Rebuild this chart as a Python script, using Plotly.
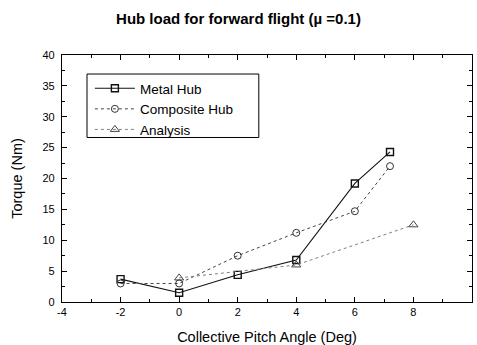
import plotly.graph_objects as go

metal_x = [-2, 0, 2, 4, 6, 7.2]
metal_y = [3.7, 1.5, 4.4, 6.8, 19.2, 24.3]
comp_x = [-2, 0, 2, 4, 6, 7.2]
comp_y = [3.0, 3.0, 7.5, 11.2, 14.7, 22.0]
anal_x = [0, 4, 8]
anal_y = [3.9, 6.0, 12.5]

x_ticks = [-4, -2, 0, 2, 4, 6, 8, 10]
y_ticks = [0, 5, 10, 15, 20, 25, 30, 35, 40]

FONT = "Arial, Liberation Sans, sans-serif"

fig = go.Figure()
fig.add_trace(go.Scatter(x=metal_x, y=metal_y, name="Metal Hub", mode="lines+markers",
                         line=dict(color="#111111", width=1.1),
                         marker=dict(symbol="square-open", size=7, color="#111111", line=dict(width=1.4))))
fig.add_trace(go.Scatter(x=comp_x, y=comp_y, name="Composite Hub", mode="lines+markers",
                         line=dict(color="#444444", width=1, dash="dot"),
                         marker=dict(symbol="circle-open", size=7, color="#333333", line=dict(width=1))))
fig.add_trace(go.Scatter(x=anal_x, y=anal_y, name="Analysis", mode="lines+markers",
                         line=dict(color="#808080", width=1, dash="dot"),
                         marker=dict(symbol="triangle-up-open", size=8, color="#444444", line=dict(width=1))))

axis_common = dict(showline=True, linecolor="black", linewidth=1.3, mirror="ticks",
                   ticks="inside", ticklen=5, tickcolor="black", showgrid=False, zeroline=False,
                   automargin=False,
                   tickfont=dict(family=FONT, size=11, color="black"),
                   title_font=dict(family=FONT, size=14.5, color="black"))

fig.update_layout(
    width=477, height=345,
    margin=dict(l=62, r=5, t=55, b=43),
    paper_bgcolor="white", plot_bgcolor="white",
    title=dict(text="<b>Hub load for forward flight (\u00b5 =0.1)</b>", x=0.5, xanchor="center",
               y=0.96, yanchor="top",
               font=dict(family=FONT, size=15, color="black")),
    xaxis=dict(range=[-4, 10], tickvals=x_ticks, ticktext=[str(v) for v in x_ticks],
               minor=dict(ticks="inside", ticklen=3, dtick=1, tickcolor="black", showgrid=False),
               title=dict(text="Collective Pitch Angle (Deg)", standoff=14), **axis_common),
    yaxis=dict(range=[0, 40], tickvals=y_ticks, ticktext=[str(v) for v in y_ticks],
               minor=dict(ticks="inside", ticklen=3, dtick=2.5, tickcolor="black", showgrid=False),
               ticklabelstandoff=4,
               title=dict(text="Torque (Nm)", standoff=16), **axis_common),
    legend=dict(x=0.068, y=0.927, xanchor="left", yanchor="top",
                borderwidth=0, bgcolor="rgba(0,0,0,0)",
                font=dict(family=FONT, size=13.5, color="black"),
                tracegroupgap=0, itemwidth=40),
    shapes=[dict(type="rect", xref="paper", yref="paper", x0=0.061, x1=0.48, y0=0.666, y1=0.923,
                 line=dict(color="black", width=1), fillcolor="rgba(0,0,0,0)", layer="above")],
    showlegend=True,
)

fig.write_html("out.html")
